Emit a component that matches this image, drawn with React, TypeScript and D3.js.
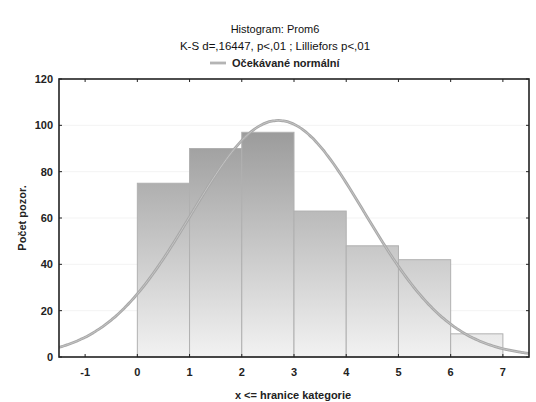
import React from "react";
import * as d3 from "d3";

const binStarts = [0, 1, 2, 3, 4, 5, 6];
const binCounts = [75, 90, 97, 63, 48, 42, 10];
const xTicks = [-1, 0, 1, 2, 3, 4, 5, 6, 7];
const yTicks = [0, 20, 40, 60, 80, 100, 120];
const normalMean = 2.7;
const normalSd = 1.66;
const binWidth = 1;

const W = 536, H = 402;
const M = { left: 59, right: 529, top: 79, bottom: 357 };
const FONT = "Liberation Sans, Arial, sans-serif";

export default function App() {
  const x = d3.scaleLinear().domain([-1.5, 7.5]).range([M.left, M.right]);
  const y = d3.scaleLinear().domain([0, 120]).range([M.bottom, M.top]);
  const total = d3.sum(binCounts);
  const expected = (v: number) =>
    (total * binWidth) / (normalSd * Math.sqrt(2 * Math.PI)) *
    Math.exp(-0.5 * ((v - normalMean) / normalSd) ** 2);
  const xs = d3.range(-1.5, 7.5001, 0.05);
  const line = d3.line<number>().x((v) => x(v)).y((v) => y(expected(v))).curve(d3.curveBasis);
  const d = line(xs) || "";

  return (
    <svg width={W} height={H} style={{ position: "absolute", left: 0, top: 0, background: "#fff" }}>
      <defs>
        <linearGradient id="barGrad" gradientUnits="userSpaceOnUse" x1="0" y1={y(100)} x2="0" y2={y(0)}>
          <stop offset="0%" stopColor="#999" />
          <stop offset="100%" stopColor="#f2f2f2" />
        </linearGradient>
        <clipPath id="plotClip">
          <rect x={M.left} y={M.top} width={M.right - M.left} height={M.bottom - M.top} />
        </clipPath>
      </defs>
      <rect width={W} height={H} fill="#fff" />
      {yTicks.slice(1, -1).map((t) => (
        <line key={"g" + t} x1={M.left} x2={M.right} y1={y(t)} y2={y(t)} stroke="#f3f3f3" strokeWidth={1} />
      ))}
      {binStarts.map((b, i) => (
        <rect key={b} x={x(b)} y={y(binCounts[i])} width={x(b + binWidth) - x(b)} height={y(0) - y(binCounts[i])}
          fill="url(#barGrad)" stroke="#b0b0b0" strokeWidth={1} />
      ))}
      <g clipPath="url(#plotClip)">
        <path d={d} fill="none" stroke="#a8a8a8" strokeWidth={2.8} />
        <path d={d} fill="none" stroke="#c4c4c4" strokeWidth={1} />
      </g>
      <rect x={M.left} y={M.top} width={M.right - M.left} height={M.bottom - M.top} fill="none" stroke="#222" strokeWidth={1.6} />
      {yTicks.map((t) => (
        <g key={"y" + t}>
          <line x1={M.left} x2={M.left + 3} y1={y(t)} y2={y(t)} stroke="#222" />
          <line x1={M.right} x2={M.right - 3} y1={y(t)} y2={y(t)} stroke="#222" />
          <text x={53} y={y(t)} dy="0.35em" textAnchor="end" fontFamily={FONT} fontSize={11} fontWeight="bold" fill="#222">{t}</text>
        </g>
      ))}
      {xTicks.map((t) => (
        <g key={"x" + t}>
          <line x1={x(t)} x2={x(t)} y1={M.bottom} y2={M.bottom - 3} stroke="#222" />
          <line x1={x(t)} x2={x(t)} y1={M.top} y2={M.top + 3} stroke="#222" />
          <text x={x(t)} y={372} dy="0.35em" textAnchor="middle" fontFamily={FONT} fontSize={11} fontWeight="bold" fill="#222">{t}</text>
        </g>
      ))}
      <text x={275} y={29} dy="0.35em" textAnchor="middle" fontFamily={FONT} fontSize={11} fill="#111">Histogram: Prom6</text>
      <text x={275} y={46} dy="0.35em" textAnchor="middle" fontFamily={FONT} fontSize={11.5} fill="#111">K-S d=,16447, p&lt;,01 ; Lilliefors p&lt;,01</text>
      <line x1={210} x2={226} y1={63} y2={63} stroke="#b4b4b4" strokeWidth={2.8} />
      <text x={232} y={63} dy="0.35em" fontFamily={FONT} fontSize={11} fontWeight="bold" fill="#222">Očekávané normální</text>
      <text x={293} y={395} dy="0.35em" textAnchor="middle" fontFamily={FONT} fontSize={11} fontWeight="bold" fill="#222">x &lt;= hranice kategorie</text>
      <text transform={`translate(22,218) rotate(-90)`} dy="0.35em" textAnchor="middle" fontFamily={FONT} fontSize={11} fontWeight="bold" fill="#222">Počet pozor.</text>
    </svg>
  );
}
